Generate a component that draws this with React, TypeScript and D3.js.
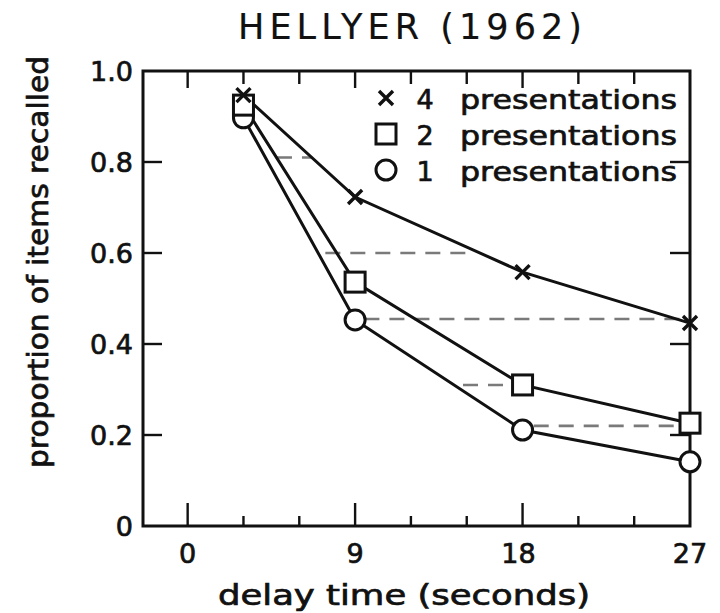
import React, { useRef, useEffect } from 'react';
import * as d3 from 'd3';

// delay times (seconds) and recall proportions
const delays = [3, 9, 18, 27];
const fourPres = [0.947, 0.723, 0.558, 0.446];
const twoPres = [0.925, 0.536, 0.31, 0.226];
const onePres = [0.897, 0.453, 0.211, 0.141];

const seriesNames = ['4', '2', '1'];
const seriesMarks = ['cross', 'square', 'circle'];

// horizontal dashed guides: level, start and end delay
const guideLevels = [0.81, 0.6, 0.455, 0.31, 0.22];
const guideFrom = [4.8, 7.4, 9.5, 14.8, 18.6];
const guideTo = [6.7, 15.3, 26.5, 17.4, 26.5];

const xTickLabels = [0, 9, 18, 27];
const xTickSteps = [0, 3, 6, 9, 12, 15, 18, 21, 24];
const yTickLabels = [0, 0.2, 0.4, 0.6, 0.8, 1.0];

const W = 720;
const H = 613;
const FONT = '"DejaVu Sans", sans-serif';

const App = () => {
  const svgRef = useRef<SVGSVGElement>(null);

  useEffect(() => {
    const svg = d3.select(svgRef.current).html('');

    const x = d3.scaleLinear().domain([-2.4, 27]).range([143, 690]);
    const y = d3.scaleLinear().domain([0, 1]).range([526, 71]);

    const left = x(-2.4);
    const right = x(27);
    const top = y(1);
    const bottom = y(0);

    // --- dashed guides (behind everything) ---
    guideLevels.forEach((lv, i) => {
      svg.append('line')
        .attr('x1', x(guideFrom[i]))
        .attr('x2', x(guideTo[i]))
        .attr('y1', y(lv))
        .attr('y2', y(lv))
        .attr('stroke', '#7a7a7a')
        .attr('stroke-width', 2.6)
        .attr('stroke-dasharray', '15 10');
    });

    // --- frame ---
    svg.append('rect')
      .attr('x', left)
      .attr('y', top)
      .attr('width', right - left)
      .attr('height', bottom - top)
      .attr('fill', 'none')
      .attr('stroke', '#111')
      .attr('stroke-width', 3);

    // x ticks, top and bottom, pointing inward
    xTickSteps.forEach(t => {
      const major = t % 9 === 0;
      svg.append('line')
        .attr('x1', x(t)).attr('x2', x(t))
        .attr('y1', bottom).attr('y2', bottom - (major ? 23 : 10))
        .attr('stroke', '#111').attr('stroke-width', 2.4);
      svg.append('line')
        .attr('x1', x(t)).attr('x2', x(t))
        .attr('y1', top).attr('y2', top + (major ? 17 : 13))
        .attr('stroke', '#111').attr('stroke-width', 2.4);
    });

    // y ticks, left and right
    yTickLabels.filter(v => v > 0 && v < 1).forEach(v => {
      svg.append('line')
        .attr('x1', left).attr('x2', left + 19)
        .attr('y1', y(v)).attr('y2', y(v))
        .attr('stroke', '#111').attr('stroke-width', 2.4);
      svg.append('line')
        .attr('x1', right).attr('x2', right - 20)
        .attr('y1', y(v)).attr('y2', y(v))
        .attr('stroke', '#111').attr('stroke-width', 2.4);
    });

    const txt = (sel: any) => sel
      .attr('font-family', FONT)
      .attr('fill', '#111')
      .attr('stroke', '#111')
      .attr('stroke-width', 0.7)
      .attr('dominant-baseline', 'central');

    // y tick labels
    yTickLabels.forEach(v => {
      svg.append('text')
        .call(txt)
        .attr('x', 133)
        .attr('y', y(v))
        .attr('text-anchor', 'end')
        .attr('font-size', 27)
        .text(v === 0 ? '0' : d3.format('.1f')(v));
    });

    // x tick labels
    xTickLabels.forEach(v => {
      svg.append('text')
        .call(txt)
        .attr('x', x(v) - (v === 18 ? 4 : 0))
        .attr('y', 553)
        .attr('text-anchor', 'middle')
        .attr('font-size', 27)
        .text(String(v));
    });

    // axis titles
    svg.append('text')
      .call(txt)
      .attr('x', 218)
      .attr('y', 595)
      .attr('font-size', 28)
      .attr('textLength', 372)
      .attr('lengthAdjust', 'spacingAndGlyphs')
      .text('delay time (seconds)');

    svg.append('text')
      .call(txt)
      .attr('transform', 'translate(38,262) rotate(-90)')
      .attr('text-anchor', 'middle')
      .attr('font-size', 28)
      .attr('textLength', 412)
      .attr('lengthAdjust', 'spacingAndGlyphs')
      .text('proportion of items recalled');

    // title: spaced-out lettering
    svg.append('text')
      .call(txt)
      .attr('stroke-width', 0.2)
      .attr('x', 238)
      .attr('y', 27)
      .attr('font-size', 35)
      .attr('textLength', 344)
      .attr('lengthAdjust', 'spacing')
      .text('HELLYER (1962)');

    // --- series ---
    const allSeries = [fourPres, twoPres, onePres];
    const line = d3.line<number>()
      .x((_, i) => x(delays[i]))
      .y(d => y(d));

    allSeries.forEach(vals => {
      svg.append('path')
        .attr('d', line(vals))
        .attr('fill', 'none')
        .attr('stroke', '#111')
        .attr('stroke-width', 3);
    });

    const drawMark = (kind: string, cx: number, cy: number) => {
      if (kind === 'square') {
        svg.append('rect')
          .attr('x', cx - 10).attr('y', cy - 10)
          .attr('width', 20).attr('height', 20)
          .attr('fill', '#fff').attr('stroke', '#111').attr('stroke-width', 3);
      } else if (kind === 'circle') {
        svg.append('circle')
          .attr('cx', cx).attr('cy', cy).attr('r', 10)
          .attr('fill', '#fff').attr('stroke', '#111').attr('stroke-width', 3);
      } else {
        const s = 7;
        svg.append('path')
          .attr('d', `M${cx - s},${cy - s}L${cx + s},${cy + s}M${cx - s},${cy + s}L${cx + s},${cy - s}`)
          .attr('stroke', '#111').attr('stroke-width', 3.4);
      }
    };

    // draw circles first, crosses last so stacking at 3 s resembles the figure
    [2, 1, 0].forEach(si => {
      allSeries[si].forEach((v, i) => drawMark(seriesMarks[si], x(delays[i]), y(v)));
    });

    // --- legend ---
    seriesNames.forEach((n, i) => {
      const ly = 98 + i * 36;
      drawMark(seriesMarks[i], 386, ly);
      svg.append('text')
        .call(txt)
        .attr('x', 425)
        .attr('y', ly + 1)
        .attr('text-anchor', 'middle')
        .attr('font-size', 27)
        .text(n);
      svg.append('text')
        .call(txt)
        .attr('x', 460)
        .attr('y', ly + 1)
        .attr('font-size', 27)
        .attr('textLength', 217)
        .attr('lengthAdjust', 'spacingAndGlyphs')
        .text('presentations');
    });
  }, []);

  return (
    <svg
      ref={svgRef}
      width={W}
      height={H}
      style={{ position: 'absolute', left: 0, top: 0, background: '#fff' }}
    />
  );
};

export default App;
